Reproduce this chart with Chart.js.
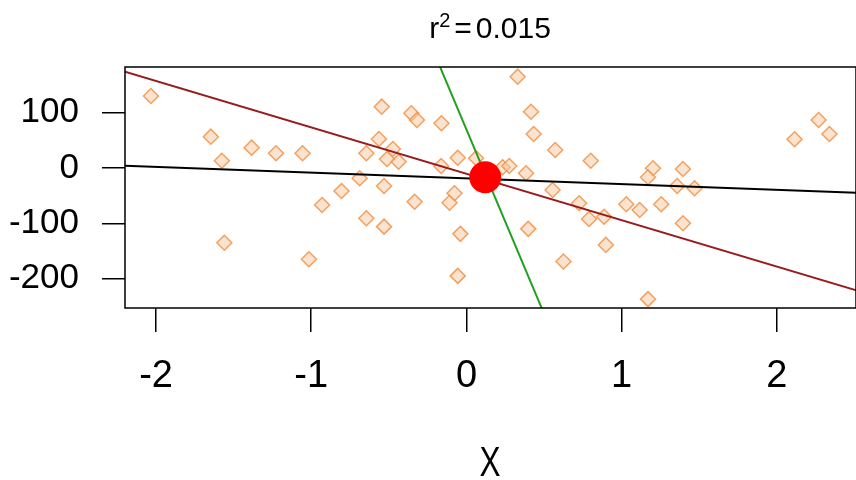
<!DOCTYPE html>
<html>
<head>
<meta charset="utf-8">
<script src="https://cdn.jsdelivr.net/npm/chart.js@4"></script>
<style>
  html, body { margin: 0; padding: 0; background: #fff; overflow: hidden; }
  #chart { display: block; }
</style>
</head>
<body>
<canvas id="chart" width="872" height="480"></canvas>
<script>
const xTicks = [-2, -1, 0, 1, 2];
const yTicks = [-200, -100, 0, 100];

const pointsX = [
  -2.033, -1.647, -1.576, -1.384, -1.227, -1.056, -0.645, -0.688, -0.805, -0.93,
  -0.645, -1.56, -1.015, -0.546, -0.355, -0.319, -0.161, 0.33, 0.416, 0.433,
  0.572, 0.801, -0.564, -0.474, -0.512, -0.437, -0.163, -0.056, 0.062, 0.233,
  0.276, 0.384, -0.531, 0.555, -0.334, -0.077, -0.109, 0.726, 0.79, 0.887,
  -0.531, -0.039, 0.398, 0.898, 0.625, -0.056, 2.269, 2.339, 2.114, 1.202,
  1.17, 1.395, 1.358, 1.47, 1.03, 1.116, 1.255, 1.395, 1.17,
];
const pointsY = [
  130, 56.6, 13.2, 36.7, 26.6, 26.6, 26.6, -18.6, -41.6, -66.9,
  -90.9, -135, -165, 110.8, 98.8, 86.7, 80.8, 165, 101.7, 61.4,
  32.5, 13.2, 52.4, 34.3, 16.3, 11.4, 3.6, 18.6, 17.5, 1.3,
  3.6, -9.6, -32.5, -39.8, -60.9, -45.7, -62.7, -63.8, -92.2, -88,
  -106, -119, -110, -139, -169, -195, 86.7, 61.4, 51.9, -0.5,
  -16.8, -1.8, -32.5, -36.7, -65.6, -75.9, -65.6, -99.9, -237,
];

const meanX = [0.121];
const meanY = [-16.8];

const blackLineX = [-2.2, 2.52];
const blackLineY = [4.2, -44.8];
const redLineX = [-2.2, 2.52];
const redLineY = [173.8, -221.7];
const greenLineX = [-0.196, 0.51];
const greenLineY = [200, -270];

const zip = (xs, ys) => xs.map((x, i) => ({ x, y: ys[i] }));

const sans = "'Liberation Sans', Arial, sans-serif";

const boxPlugin = {
  id: "box",
  afterDraw(chart) {
    const { ctx, chartArea: a } = chart;
    ctx.save();
    ctx.strokeStyle = "#000";
    ctx.lineWidth = 1.5;
    ctx.strokeRect(a.left, a.top, a.right - a.left, a.bottom - a.top);
    ctx.restore();
  },
};

// r^2 title and the narrow "X" axis label, drawn like R's plotmath
const textPlugin = {
  id: "rText",
  afterDraw(chart) {
    const { ctx } = chart;
    const cx = 490;
    ctx.save();
    ctx.fillStyle = "#000";
    ctx.textBaseline = "alphabetic";
    const big = `30px ${sans}`;
    const small = `20px ${sans}`;
    ctx.font = big;
    const wr = ctx.measureText("r").width;
    const wEq = ctx.measureText("=").width;
    const num = "0.015";
    const wNum = ctx.measureText(num).width;
    ctx.font = small;
    const w2 = ctx.measureText("2").width;
    const gap = 4;
    const total = wr + w2 + gap + wEq + gap + wNum;
    let x = cx - total / 2;
    const base = 38;
    ctx.font = big;
    ctx.fillText("r", x, base);
    x += wr;
    ctx.font = small;
    ctx.fillText("2", x, base - 11);
    x += w2 + gap;
    ctx.font = big;
    ctx.fillText("=", x, base);
    x += wEq + gap;
    ctx.fillText(num, x, base);

    ctx.font = `42px ${sans}`;
    ctx.textAlign = "center";
    ctx.translate(cx, 476);
    ctx.scale(0.75, 1);
    ctx.fillText("X", 0, 0);
    ctx.restore();
  },
};

new Chart(document.getElementById("chart"), {
  type: "scatter",
  data: {
    datasets: [
      {
        label: "mean",
        data: zip(meanX, meanY),
        pointStyle: "circle",
        pointRadius: 16,
        backgroundColor: "#ff0000",
        borderColor: "#ff0000",
        borderWidth: 0,
      },
      {
        label: "y~x",
        data: zip(blackLineX, blackLineY),
        showLine: true,
        pointRadius: 0,
        borderColor: "#000000",
        borderWidth: 2,
      },
      {
        label: "axis",
        data: zip(redLineX, redLineY),
        showLine: true,
        pointRadius: 0,
        borderColor: "#981c1c",
        borderWidth: 2,
      },
      {
        label: "x~y",
        data: zip(greenLineX, greenLineY),
        showLine: true,
        pointRadius: 0,
        borderColor: "#22a022",
        borderWidth: 2,
      },
      {
        label: "points",
        data: zip(pointsX, pointsY),
        pointStyle: "rectRot",
        pointRadius: 7.5,
        borderWidth: 1.5,
        borderColor: "rgba(242, 152, 80, 0.9)",
        backgroundColor: "rgba(250, 200, 160, 0.5)",
      },
    ],
  },
  options: {
    responsive: false,
    animation: false,
    events: [],
    layout: { padding: { top: 67, right: 3, left: 0, bottom: 0 } },
    plugins: { legend: { display: false }, tooltip: { enabled: false } },
    scales: {
      x: {
        type: "linear",
        min: -2.2,
        max: 2.51,
        afterBuildTicks: (scale) => { scale.ticks = xTicks.map((value) => ({ value })); },
        afterFit: (scale) => { scale.height = 172; },
        border: { display: false },
        grid: { display: true, drawOnChartArea: false, drawTicks: true, tickLength: 24, color: "#000", lineWidth: 1.5 },
        ticks: { color: "#000", padding: 22, font: { family: sans, size: 38 }, maxRotation: 0 },
      },
      y: {
        type: "linear",
        min: -253,
        max: 182.5,
        afterBuildTicks: (scale) => { scale.ticks = yTicks.map((value) => ({ value })); },
        afterFit: (scale) => { scale.width = 125; },
        border: { display: false },
        grid: { display: true, drawOnChartArea: false, drawTicks: true, tickLength: 23, color: "#000", lineWidth: 1.5 },
        ticks: { color: "#000", padding: 23, font: { family: sans, size: 35 } },
      },
    },
  },
  plugins: [boxPlugin, textPlugin],
});
</script>
</body>
</html>
